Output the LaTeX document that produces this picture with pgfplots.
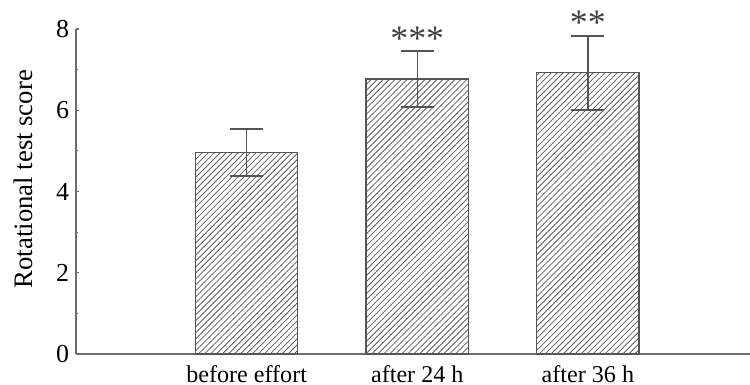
\documentclass[border=0pt]{standalone}
\usepackage{fontspec}
\setmainfont{Liberation Serif}
\usepackage{pgfplots}
\pgfplotsset{compat=1.18}
\usetikzlibrary{patterns}
\definecolor{axgray}{RGB}{110,110,110}
\definecolor{bargray}{RGB}{85,85,85}
\begin{document}
\begin{tikzpicture}
\begin{axis}[
  scale only axis,
  width=337bp, height=162.5bp,
  xmin=-1, xmax=2.95,
  ymin=0, ymax=8,
  axis lines=left,
  axis line style={axgray, line width=0.8pt, -},
  xtick={0,1,2},
  xticklabels={before effort, after 24 h, after 36 h},
  x tick label style={font=\fontsize{12.1}{13}\selectfont, yshift=-0.5bp},
  major x tick style={draw=none},
  ytick={0,2,4,6,8},
  minor ytick={1,3,5,7},
  tick align=inside,
  major tick length=1.5bp,
  minor tick length=1.2bp,
  tick style={axgray, line width=0.6pt},
  y tick label style={font=\fontsize{13}{14}\selectfont},
  /pgf/number format/assume math mode=true,
  ylabel={Rotational test score},
  ylabel style={at={(axis description cs:-0.0638,0.538)}, anchor=base, font=\fontsize{13.4}{15}\selectfont},
  ybar, bar width=0.6, bar shift=0pt,
  clip=false,
]
\addplot[draw=bargray, line width=0.6pt, pattern=north east lines, pattern color=gray!75!black,
  error bars/.cd, y dir=both, y explicit,
  error bar style={bargray, line width=0.7pt},
  error mark options={rotate=90, mark size=8.25bp, bargray, line width=0.7pt}]
  coordinates {
    (0,4.96) +- (0,0.58)
    (1,6.77) +- (0,0.69)
    (2,6.92) +- (0,0.91)
  };
\node[anchor=base, font=\fontsize{18}{19}\selectfont, text=black!75, inner sep=0pt] at (axis cs:1,7.48) {***};
\node[anchor=base, font=\fontsize{18}{19}\selectfont, text=black!75, inner sep=0pt] at (axis cs:2,7.86) {**};
\end{axis}
\pgfresetboundingbox
\path (current axis.south west) ++(-38bp,-15.5bp) rectangle ++(375bp,192.5bp);
\end{tikzpicture}
\end{document}
